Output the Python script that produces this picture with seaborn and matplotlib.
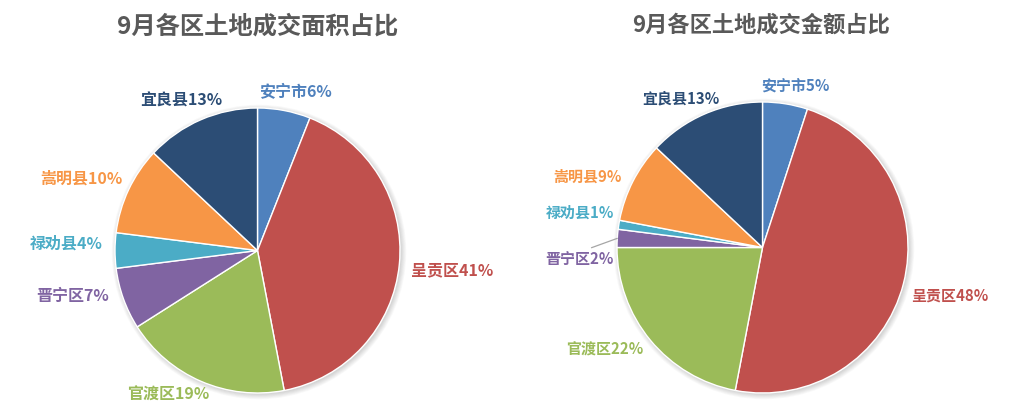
import matplotlib
matplotlib.use("Agg")
import numpy as np
import matplotlib.pyplot as plt
from matplotlib.patches import Circle
import seaborn as sns

# ---- data ----
districts = ["安宁市", "呈贡区", "官渡区", "晋宁区", "禄劝县", "嵩明县", "宜良县"]
area_share = [6, 41, 19, 7, 4, 10, 13]      # 成交面积占比 (%)
amount_share = [5, 48, 22, 2, 1, 9, 13]     # 成交金额占比 (%)
titles = ["9月各区土地成交面积占比", "9月各区土地成交金额占比"]

colors = sns.color_palette(["#4F81BD", "#C0504D", "#9BBB59", "#8064A2",
                            "#4BACC6", "#F79646", "#2C4D75"])

sns.set_theme(style="white")
plt.rcParams["font.family"] = ["Noto Sans CJK SC", "DejaVu Sans"]

W, H = 1009, 411
fig = plt.figure(figsize=(W / 100, H / 100), dpi=100)
ax = fig.add_axes([0, 0, 1, 1])

# layout of each panel: centre (px), radius (px), title position, font sizes,
# label centres in units of the radius, and labels that need a leader line
panels = [
    dict(values=area_share, title=titles[0], center=(257.5, H - 250.5), radius=142.5,
         title_xy=(258, H - 27), title_size=17.5, label_size=11.5,
         label_pos=[(0.266, 1.112), (1.364, -0.14), (-0.629, -1.014), (-1.30, -0.32),
                    (-1.343, 0.049), (-1.238, 0.503), (-0.538, 1.049)],
         leaders=[]),
    dict(values=amount_share, title=titles[1], center=(762.5, H - 247.5), radius=145.5,
         title_xy=(761.5, H - 25), title_size=16, label_size=10.8,
         label_pos=[(0.223, 1.110), (1.289, -0.33), (-1.087, -0.701), (-1.261, -0.079),
                    (-1.254, 0.237), (-1.203, 0.485), (-0.560, 1.027)],
         leaders=[3]),
]

for p in panels:
    cx, cy = p["center"]
    r = p["radius"]

    # soft drop shadow around the pie
    for i in range(7):
        ax.add_patch(Circle((cx + 1.5, cy - 1.5), r + 0.8 * i, facecolor="black",
                            edgecolor="none", alpha=0.025, zorder=0))

    wedges, _ = ax.pie(p["values"], colors=colors, startangle=90, counterclock=False,
                       center=(cx, cy), radius=r,
                       wedgeprops=dict(edgecolor="white", linewidth=1.0, zorder=2))

    for i, (name, val) in enumerate(zip(districts, p["values"])):
        lx, ly = p["label_pos"][i]
        tx, ty = cx + lx * r, cy + ly * r
        text = f"{name}{val}%"
        if i in p["leaders"]:
            w = wedges[i]
            mid = np.deg2rad((w.theta1 + w.theta2) / 2)
            ex, ey = cx + r * np.cos(mid), cy + r * np.sin(mid)
            ax.annotate(text, xy=(ex, ey), xytext=(tx, ty), ha="center", va="center",
                        fontsize=p["label_size"], fontweight="bold", color=colors[i],
                        arrowprops=dict(arrowstyle="-", color="#A6A6A6", lw=0.9,
                                        relpos=(0.55, 1.0), shrinkA=0, shrinkB=0),
                        zorder=4)
        else:
            ax.text(tx, ty, text, ha="center", va="center", fontsize=p["label_size"],
                    fontweight="bold", color=colors[i], zorder=4)

    ax.text(p["title_xy"][0], p["title_xy"][1], p["title"], ha="center", va="center",
            fontsize=p["title_size"], fontweight="bold", color="#595959")

ax.set_xlim(0, W)
ax.set_ylim(0, H)
ax.set_aspect("equal")
ax.axis("off")

fig.savefig("out.png", dpi=100, facecolor="white")
